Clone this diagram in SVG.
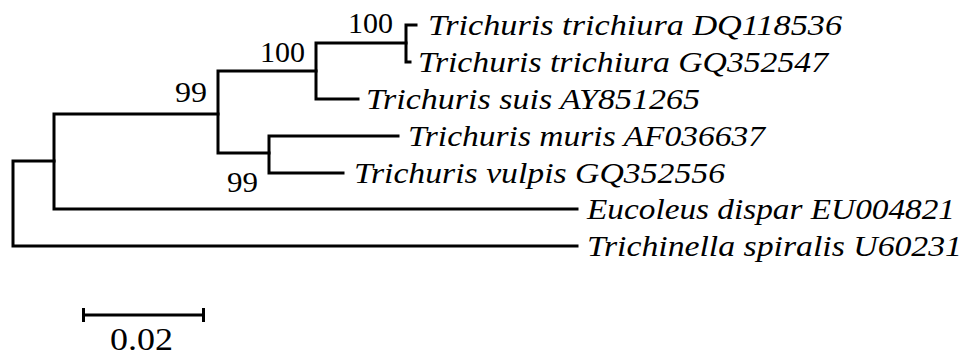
<svg xmlns="http://www.w3.org/2000/svg" width="966" height="356" viewBox="0 0 966 356">
<style>
.br{fill:none;stroke:#000;stroke-width:3;stroke-linejoin:miter;stroke-linecap:square}
text{fill:#000;font-size:30px}
.leaf{font-style:italic}
</style>
<rect width="966" height="356" fill="#fff"/>
<g id="connectors">
<path class="br" d="M54,161 H13 V246 H577"/>
<path class="br" d="M218,114 H54 V209 H577"/>
<path class="br" d="M316,71 H218 V153 H269"/>
<path class="br" d="M406,43 H316 V99 H358"/>
<path class="br" d="M416,25 H406 V62 H410"/>
<path class="br" d="M398,136 H269 V173 H343"/>
</g>
<g font-family="Liberation Serif, Times New Roman, serif">
<g id="leaf1"><text class="leaf" x="428" y="35" textLength="414" lengthAdjust="spacingAndGlyphs">Trichuris trichiura DQ118536</text></g>
<g id="leaf2"><text class="leaf" x="418" y="72" textLength="410" lengthAdjust="spacingAndGlyphs">Trichuris trichiura GQ352547</text></g>
<g id="leaf3"><text class="leaf" x="366" y="109" textLength="334" lengthAdjust="spacingAndGlyphs">Trichuris suis AY851265</text></g>
<g id="leaf4"><text class="leaf" x="408" y="146" textLength="357" lengthAdjust="spacingAndGlyphs">Trichuris muris AF036637</text></g>
<g id="leaf5"><text class="leaf" x="354" y="183" textLength="371" lengthAdjust="spacingAndGlyphs">Trichuris vulpis GQ352556</text></g>
<g id="leaf6"><text class="leaf" x="587" y="219" textLength="368" lengthAdjust="spacingAndGlyphs">Eucoleus dispar EU004821</text></g>
<g id="leaf7"><text class="leaf" x="587" y="256" textLength="375" lengthAdjust="spacingAndGlyphs">Trichinella spiralis U60231</text></g>
<g id="nodeD"><text x="348" y="33" textLength="45" lengthAdjust="spacingAndGlyphs">100</text></g>
<g id="nodeC"><text x="260" y="62" textLength="45" lengthAdjust="spacingAndGlyphs">100</text></g>
<g id="nodeB"><text x="175" y="102" textLength="32" lengthAdjust="spacingAndGlyphs">99</text></g>
<g id="nodeE"><text x="227" y="192" textLength="31" lengthAdjust="spacingAndGlyphs">99</text></g>
<g id="scale">
<path class="br" style="stroke-linecap:butt" d="M82,315 H205 M83.5,308 V322 M203.5,308 V322"/>
<text x="110" y="350" textLength="63" lengthAdjust="spacingAndGlyphs" style="font-size:31px">0.02</text>
</g>
</g>
</svg>
